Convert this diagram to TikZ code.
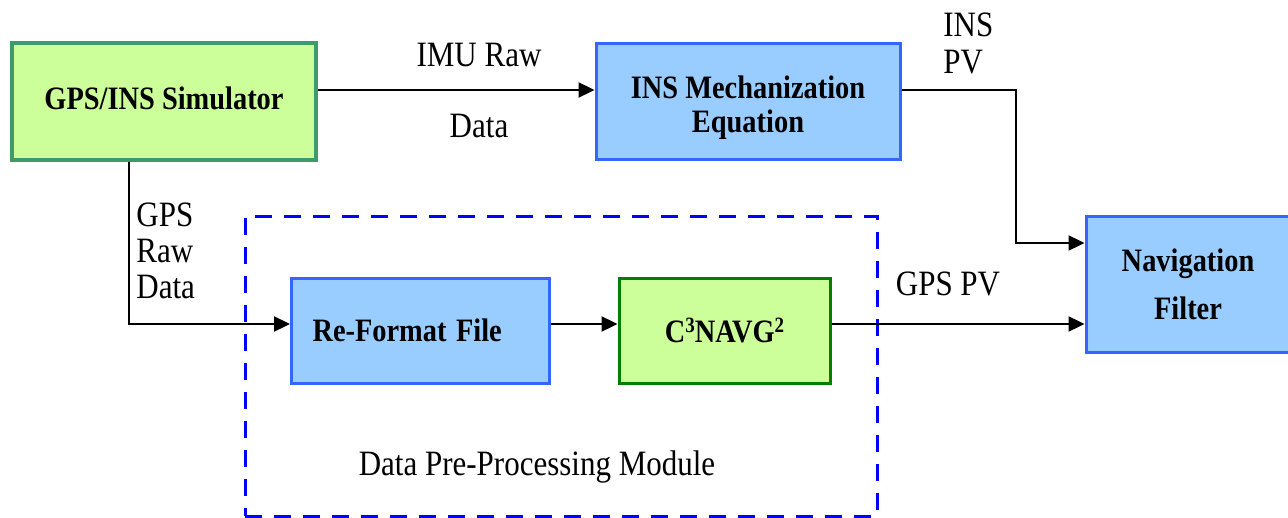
\documentclass[tikz,border=0pt]{standalone}
\usepackage{fontspec}
\setmainfont{Liberation Serif}
\usetikzlibrary{arrows.meta}
\definecolor{boxgreen}{HTML}{CCFF99}
\definecolor{simedge}{HTML}{3D9B6B}
\definecolor{c3edge}{HTML}{008000}
\definecolor{boxblue}{HTML}{99CCFF}
\definecolor{edgeblue}{HTML}{3366FF}
\definecolor{modblue}{HTML}{0000FF}
% slightly condensed-looking, taller lettering
\newcommand\vstretch[1]{\scalebox{1}[1.15]{#1}}
% small raised index
\newcommand\supidx[1]{\raisebox{4.2pt}{\fontsize{9.5}{9.5}\selectfont #1}}
\begin{document}
\begin{tikzpicture}[x=0.5pt,y=-0.5pt,
  blk/.style={draw, line width=1.5pt, inner sep=0pt, align=center,
    font=\fontsize{14.2}{17}\selectfont\bfseries},
  bluebox/.style={blk, fill=boxblue, draw=edgeblue},
  greenbox/.style={blk, fill=boxgreen, draw=c3edge},
  link/.style={line width=1.15pt, -{Triangle[length=8pt,width=7.5pt]}},
  lbl/.style={inner sep=0pt, font=\fontsize{15.5}{18.5}\selectfont},
  module/.style={draw=modblue, line width=1.5pt, dash pattern=on 8.5pt off 6pt,
    inner sep=0pt}
]
\useasboundingbox (0,0) rectangle (1288,518);

% processing blocks
\node[greenbox, draw=simedge, line width=2pt, minimum width=152pt, minimum height=58.5pt]
  (sim) at (164,101.5) {\vstretch{GPS/INS Simulator}\rule[-3pt]{0pt}{1pt}};
\node[bluebox, minimum width=152pt, minimum height=58pt]
  (ins) at (748,102) {\rule{0pt}{17pt}\vstretch{INS Mechanization}\\\vstretch{Equation}};
\node[bluebox, minimum width=102pt, minimum height=68pt,
  font=\fontsize{14.2}{24}\selectfont\bfseries]
  (nav) at (1188,284) {\vstretch{Navigation}\\\vstretch{Filter}};

% data pre-processing module
\node[module, minimum width=316pt, minimum height=150pt] (mod) at (561,366) {};
\node[bluebox, minimum width=128.5pt, minimum height=52.5pt,
  text width=108pt, align=left, inner xsep=10.5pt]
  (rf) at (420.5,330.5) {\vstretch{Re-Format File}};
\node[greenbox, minimum width=105.5pt, minimum height=52.5pt]
  (c3) at (724.5,330.5) {\vstretch{C\supidx{3}NAVG\supidx{2}}};
\node[lbl] (modlbl) at (537,467) {\vstretch{Data Pre-Processing Module}};

% connectors
\coordinate (bendins) at (1016,90);
\coordinate (bendgps) at (129,324);
\draw[link] (sim.east |- 0,90) -- (ins.west |- 0,90);
\draw[link] (ins.east |- bendins) -- (bendins) |- (nav.west |- 0,243);
\draw[link] (sim.south -| bendgps) -- (bendgps) -- (rf.west |- bendgps);
\draw[link] (rf.east |- 0,324) -- (c3.west |- 0,324);
\draw[link] (c3.east |- 0,324) -- (nav.west |- 0,324);

% connector labels
\node[lbl] (imu1) at (479,55) {\vstretch{IMU Raw}};
\node[lbl] (imu2) at (479,126) {\vstretch{Data}};
\node[lbl, align=left, anchor=west] (inspv) at (943,43) {\vstretch{INS}\\\vstretch{PV}};
\node[lbl, align=left, anchor=west, font=\fontsize{15.5}{18}\selectfont]
  (gpsraw) at (136,251) {\vstretch{GPS}\\\vstretch{Raw}\\\vstretch{Data}};
\node[lbl] (gpspv) at (948,284) {\vstretch{GPS PV}};
\end{tikzpicture}
\end{document}
